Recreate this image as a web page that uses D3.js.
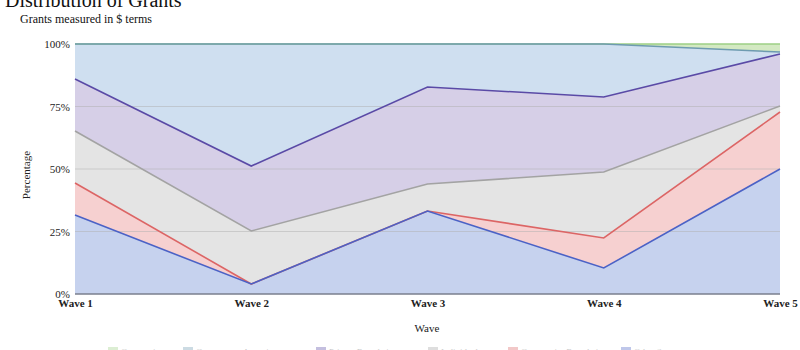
<!DOCTYPE html>
<html>
<head>
<meta charset="utf-8">
<script src="https://cdn.jsdelivr.net/npm/d3@7"></script>
<style>
  html, body { margin: 0; padding: 0; background: #fff; }
  svg { display: block; font-family: "Liberation Serif", "Times New Roman", serif; }
  svg text { font-family: "Liberation Serif", "Times New Roman", serif; }
</style>
</head>
<body>
<svg id="chart" width="800" height="350"></svg>
<script>
// Survey waves along the x axis
const waves = ["Wave 1", "Wave 2", "Wave 3", "Wave 4", "Wave 5"];

// Share of grant dollars per source (percent), stacked bottom to top
const seriesNames = [
  "Other Sources",
  "Community Foundations",
  "Individuals",
  "Private Foundations",
  "Government Agencies",
  "Corporations"
];
const otherSources        = [31.6, 4.0, 33.2, 10.4, 50.0];
const communityFound      = [12.8, 0.0, 0.0, 12.0, 22.8];
const individuals         = [20.8, 21.2, 10.8, 26.4, 2.4];
const privateFound        = [20.8, 26.0, 38.8, 30.0, 20.8];
const governmentAgencies  = [14.0, 48.8, 17.2, 21.2, 0.8];
const corporations        = [0.0, 0.0, 0.0, 0.0, 3.2];

const yTicks = [0, 25, 50, 75, 100];

const seriesValues = [otherSources, communityFound, individuals, privateFound, governmentAgencies, corporations];
const fills  = ["#c6d2ee", "#f6d0d0", "#e4e4e4", "#d6cfe7", "#cfdff0", "#d3e9c2"];
const lines  = ["#4b62c6", "#dc6565", "#a3a3a3", "#5a4aa6", "#6e9bb0", "#9ccf84"];

const svg = d3.select("#chart");
const margin = { left: 75, right: 20, top: 44, bottom: 56 };
const W = 800, H = 350;

const x = d3.scalePoint().domain(waves).range([margin.left, W - margin.right]);
const y = d3.scaleLinear().domain([0, 100]).range([H - margin.bottom, margin.top]);

// Build a table and stack it
const table = waves.map((w, i) => {
  const row = { wave: w };
  seriesNames.forEach((s, k) => row[s] = seriesValues[k][i]);
  return row;
});
const stacked = d3.stack().keys(seriesNames)(table);

const area = d3.area()
  .x(d => x(d.data.wave))
  .y0(d => y(d[0]))
  .y1(d => y(d[1]));
const line = d3.line()
  .x(d => x(d.data.wave))
  .y(d => y(d[1]));

// Areas
svg.append("g").selectAll("path")
  .data(stacked)
  .join("path")
  .attr("d", area)
  .attr("fill", (d, i) => fills[i]);

// Gridlines over the fills
svg.append("g").selectAll("line")
  .data(yTicks.filter(t => t > 0 && t < 100))
  .join("line")
  .attr("x1", margin.left).attr("x2", W - margin.right)
  .attr("y1", d => y(d)).attr("y2", d => y(d))
  .attr("stroke", "#b0b0b0").attr("stroke-opacity", 0.5).attr("stroke-width", 1);

// Series lines (top edge of each layer)
svg.append("g").selectAll("path")
  .data(stacked.slice().reverse())
  .join("path")
  .attr("d", line)
  .attr("fill", "none")
  .attr("stroke", (d) => lines[d.index])
  .attr("stroke-width", 1.6);

// Baseline
svg.append("line")
  .attr("x1", margin.left).attr("x2", W - margin.right)
  .attr("y1", y(0)).attr("y2", y(0))
  .attr("stroke", "#7a7f8e").attr("stroke-width", 1.5);

// Y axis labels
const yAxis = d3.axisLeft(y).tickValues(yTicks).tickFormat(d => d + "%").tickSize(0).tickPadding(5);
const gy = svg.append("g").attr("transform", `translate(${margin.left},0)`).call(yAxis);
gy.attr("font-family", null);
gy.select(".domain").remove();
gy.selectAll("text").attr("font-size", 11).attr("fill", "#222");

// X axis labels
const xAxis = d3.axisBottom(x).tickSize(0).tickPadding(5);
const gx = svg.append("g").attr("transform", `translate(0,${y(0)})`).call(xAxis);
gx.attr("font-family", null);
gx.select(".domain").remove();
gx.selectAll("text").attr("font-size", 11).attr("font-weight", "bold").attr("fill", "#222");

// Titles
svg.append("text").attr("x", 5).attr("y", 7).attr("font-size", 20).attr("fill", "#111").text("Distribution of Grants");
svg.append("text").attr("x", 20).attr("y", 23).attr("font-size", 12).attr("fill", "#111").text("Grants measured in $ terms");

// Axis titles
svg.append("text").attr("transform", "translate(30,175) rotate(-90)").attr("text-anchor", "middle")
  .attr("font-size", 11).attr("fill", "#222").text("Percentage");
svg.append("text").attr("x", 427).attr("y", 332).attr("text-anchor", "middle")
  .attr("font-size", 11).attr("fill", "#222").text("Wave");

// Legend (top-down order)
const legendX = [108, 183, 316, 428, 508, 621];
const legend = svg.append("g").attr("opacity", 0.35);
seriesNames.slice().reverse().forEach((name, j) => {
  const k = seriesNames.length - 1 - j;
  const g = legend.append("g").attr("transform", `translate(${legendX[j]},347)`);
  g.append("rect").attr("width", 10).attr("height", 8).attr("fill", lines[k]);
  g.append("text").attr("x", 13).attr("y", 8).attr("font-size", 9).attr("fill", "#666").text(name);
});
</script>
</body>
</html>
